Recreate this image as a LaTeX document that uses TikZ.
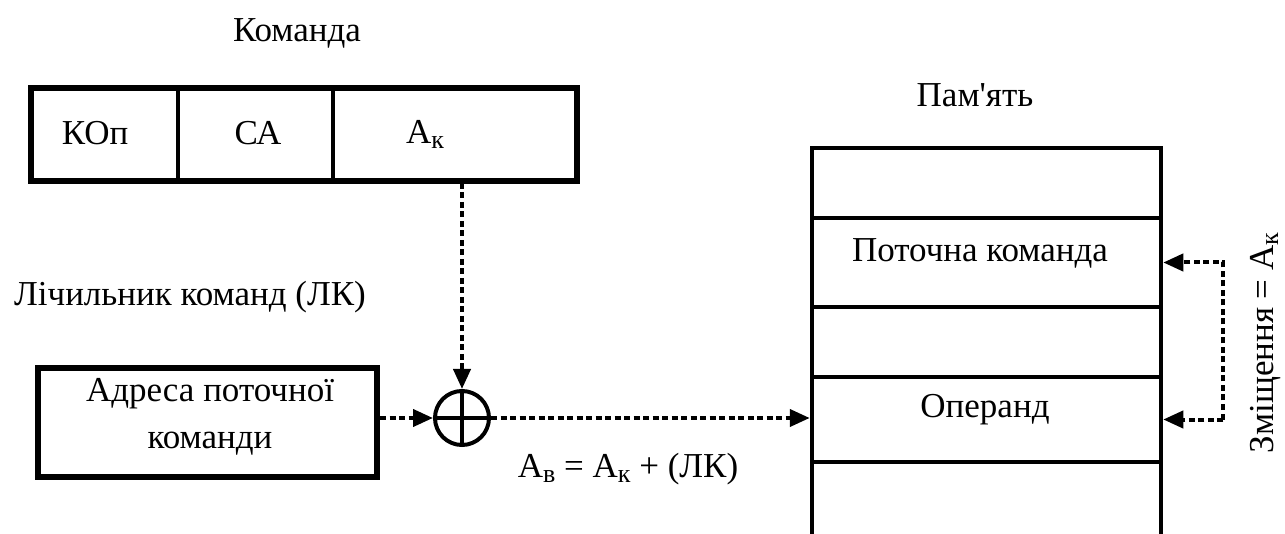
\documentclass[tikz,border=0pt]{standalone}
\usepackage{fontspec}
\setmainfont{Liberation Serif}
\usetikzlibrary{arrows.meta}
\newcommand{\mysub}[1]{\raisebox{-5pt}{\fontsize{26}{26}\selectfont #1}}
\begin{document}
\begin{tikzpicture}[x=1pt,y=-1pt,
  cell/.style={draw,line width=4pt,inner sep=0pt,minimum height=93pt},
  outer/.style={draw,line width=6pt,inner sep=0pt},
  mem/.style={draw,line width=4.5pt,inner sep=0pt,minimum width=349pt},
  txt/.style={font=\fontsize{35}{47}\selectfont,inner sep=0pt},
  dots/.style={line width=4pt,dash pattern=on 6pt off 3.5pt,-{Triangle[length=20pt,width=17pt]}},
  plain/.style={line width=3.5pt}]
\useasboundingbox (0,0) rectangle (1285,534);
% command register
\node[cell,minimum width=147pt] (c1) at (104.5,134.5) {};
\node[cell,minimum width=155pt] (c2) at (255.5,134.5) {};
\node[cell,minimum width=244pt] (c3) at (455,134.5) {};
\node[outer,minimum width=546pt,minimum height=93pt] (cmd) at (304,134.5) {};
\node[txt] (tkop) at (95,133) {КОп};
\node[txt] (tca) at (258,133) {СА};
\node[txt,anchor=base] (tak) at (425,144) {A\mysub{к}};
\node[txt] (tcmd) at (297,33) {Команда};
% counter
\node[txt] (tlk) at (190,297) {Лічильник команд (ЛК)};
\node[outer,minimum width=339pt,minimum height=109pt] (cnt) at (207.5,422.5) {};
\node[txt,align=center] (tcnt) at (210,417) {Адреса поточної\\команди};
% adder
\node[draw,circle,line width=4pt,minimum size=54pt,inner sep=0pt] (circ) at (462,418) {};
\draw[plain] (circ.north) -- (circ.south);
\draw[plain] (circ.west) -- (circ.east);
% memory
\node[mem,minimum height=70pt] (m1) at (986.5,183) {};
\node[mem,minimum height=89pt] (m2) at (986.5,262.5) {};
\node[mem,minimum height=70pt] (m3) at (986.5,342) {};
\node[mem,minimum height=85pt] (m4) at (986.5,419.5) {};
\node[mem,minimum height=83pt] (m5) at (986.5,503.5) {};
\node[txt] (tmem) at (975,95) {Пам\textquotesingle ять};
\node[txt] (tcur) at (980,253) {Поточна команда};
\node[txt] (top) at (985,410) {Операнд};
% connectors
\draw[dots] (circ |- c3.south) -- (circ.north);
\draw[dots] (cnt.east |- circ) -- (circ.west);
\draw[dots] (circ.east) -- (m4.west |- circ);
\node[txt,anchor=base] (tform) at (628,477) {A\mysub{в} = A\mysub{к} + (ЛК)};
\path (m4.east) ++(60,0) coordinate (bb);
\draw[dots] (bb) -- (m4.east);
\draw[dots] (bb) |- (m2.east);
\node[txt,rotate=90,anchor=base] (tshift) at (1273,343) {Зміщення = A\mysub{к}};
\end{tikzpicture}
\end{document}
